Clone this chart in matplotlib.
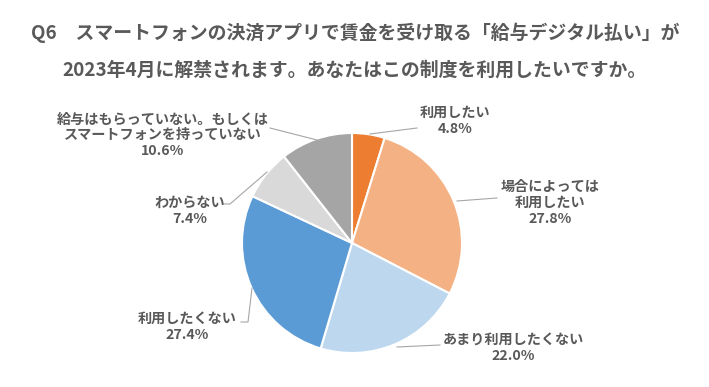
import matplotlib.pyplot as plt

plt.rcParams['font.family'] = ['Noto Sans CJK JP', 'DejaVu Sans']

# data
labels = ['利用したい', '場合によっては\n利用したい', 'あまり利用したくない',
          '利用したくない', 'わからない', '給与はもらっていない。もしくは\nスマートフォンを持っていない']
values = [4.8, 27.8, 22.0, 27.4, 7.4, 10.6]
colors = ['#ED7D31', '#F4B183', '#BDD7EE', '#5B9BD5', '#D9D9D9', '#A5A5A5']
title = ('Q6\u3000スマートフォンの決済アプリで賃金を受け取る「給与デジタル払い」が\n'
         '2023年4月に解禁されます。あなたはこの制度を利用したいですか。')

W, H = 709, 387
fig = plt.figure(figsize=(W / 100, H / 100), dpi=100)
ax = fig.add_axes([0, 0, 1, 1])

cx, cy, r = 352, H - 243, 110
ax.pie(values, colors=colors, startangle=90, counterclock=False,
       center=(cx, cy), radius=r,
       wedgeprops=dict(edgecolor='white', linewidth=1.5))

# label placement (pixel coords, y from top) and leader lines
label_pos = [(455, 121), (550, 203), (513, 348), (187, 327), (190, 211), (163, 135)]
leaders = [
    [(370, 134), (417, 128)],
    [(457, 201), (497, 198)],
    [(397, 347), (440, 345)],
    [(252, 288), (248, 322), (241, 322)],
    [(267, 172), (230, 204), (224, 204)],
    [(317, 140), (270, 128)],
]
grey = '#595959'
for lab, v, (x, y), pts in zip(labels, values, label_pos, leaders):
    ax.text(x, H - y, f'{lab}\n{v:.1f}%', ha='center', va='center',
            fontsize=10.2, fontweight='bold', color=grey, linespacing=1.15)
    ax.plot([p[0] for p in pts], [H - p[1] for p in pts], color='#A6A6A6', lw=0.8)

ax.text(355, H - 51, title, ha='center', va='center', fontsize=13.6,
        fontweight='bold', color=grey, linespacing=2.15)

ax.set_xlim(0, W)
ax.set_ylim(0, H)
ax.set_aspect('auto')
ax.axis('off')
fig.savefig('out.png', dpi=100)
